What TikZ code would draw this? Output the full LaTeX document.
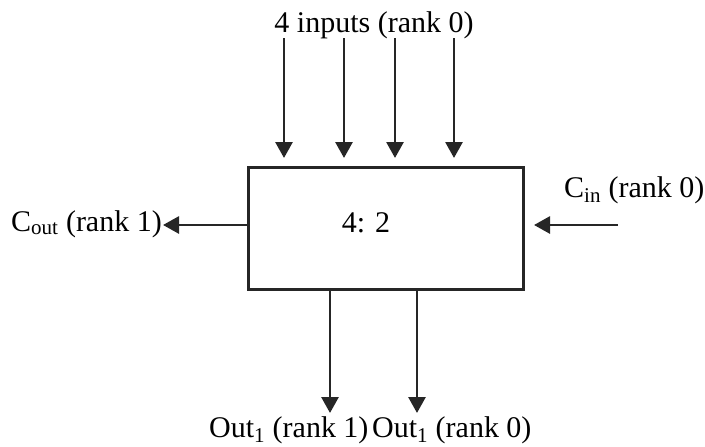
\documentclass[tikz,border=0pt]{standalone}
\usepackage{fontspec}
\setmainfont{Liberation Serif}
\usetikzlibrary{arrows.meta}
\begin{document}
\begin{tikzpicture}[x=1pt,y=-1pt,
  conn/.style={line width=2.8pt,draw=black!85,-{Triangle[length=16pt,width=17pt]}},
  lbl/.style={font=\fontsize{30}{32}\selectfont,inner sep=0pt},
  blk/.style={draw=black!85,line width=3pt,minimum width=275pt,minimum height=122pt,inner sep=0pt}]
\useasboundingbox (0,0) rectangle (705,447);
\node[blk] (box) at (385.5,228) {};
\node[lbl,anchor=base] (ratio) at (366,232) {4: 2};
\node[lbl,anchor=base] (inlbl) at (374,32) {4 inputs (rank 0)};
\foreach \i/\x in {1/284,2/344,3/395,4/454}{
  \coordinate (s\i) at (\x,38);
  \coordinate (e\i) at (\x,158);
  \draw[conn] (s\i) -- (e\i);
}
\node[lbl,anchor=base east] (cout) at (162,231) {C\textsubscript{out} (rank 1)};
\draw[conn] (box.west |- 0,225) -- ([xshift=1pt]cout.east |- 0,225);
\node[lbl,anchor=base west] (cin) at (564,197) {C\textsubscript{in} (rank 0)};
\coordinate (cins) at (618,225);
\coordinate (cine) at (534,225);
\draw[conn] (cins) -- (cine);
\node[lbl,anchor=base west] (o1) at (209,437) {Out\textsubscript{1} (rank 1)};
\node[lbl,anchor=base west] (o0) at (372,437) {Out\textsubscript{1} (rank 0)};
\coordinate (o1s) at (330,289);
\coordinate (o1e) at (330,413);
\coordinate (o0s) at (417,289);
\coordinate (o0e) at (417,413);
\draw[conn] (o1s) -- (o1e);
\draw[conn] (o0s) -- (o0e);
\end{tikzpicture}
\end{document}
